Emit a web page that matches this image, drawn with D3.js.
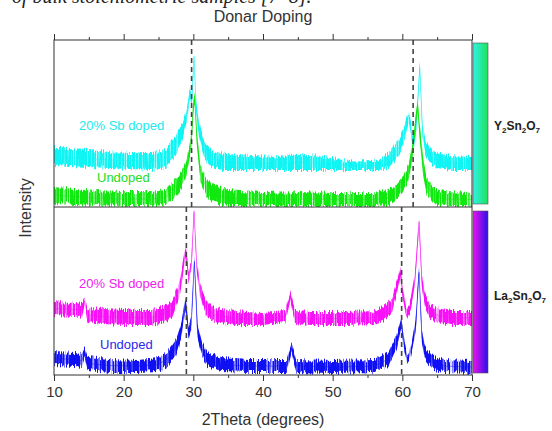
<!DOCTYPE html>
<html>
<head>
<meta charset="utf-8">
<script src="https://cdn.jsdelivr.net/npm/d3@7"></script>
<style>
  body { margin: 0; background: #fff; }
  svg { display: block; font-family: "Liberation Sans", Arial, sans-serif; }
</style>
</head>
<body>
<div id="chart"></div>
<script>
// ticks and reference (dashed) positions
var thetaMajor = [10, 20, 30, 40, 50, 60, 70];
var thetaMinor = [15, 25, 35, 45, 55, 65];
var yRefLines = [29.75, 61.55];
var laRefLines = [29.0, 59.9];

// traces: [2theta, lower edge of noise, upper edge of noise]
// Y2Sn2O7, 20% Sb doped
var ySbDoped = [[10,24.8,35.8],[12,24.2,34.5],[15,23.6,33.9],[18,23.0,32.7],[21,22.4,32.1],[24,21.8,32.1],
  [26,23.0,33.9],[27,27.9,40.0],[28,35,46],[28.5,41,50.3],[29,51,58],[29.5,64,71.5],[29.8,61,67],
  [30.1,88,93.3],[30.4,57,64],[30.8,43,51],[31.5,29,38.8],[32.5,24,34],[34,21.8,32],[38,21.8,30.3],
  [42,21.8,29.7],[44,21.8,31],[47,21.8,30.9],[50,21.8,28.9],[53,21.8,27],[56.5,21.8,27.5],[58,23,32],
  [59.5,30.3,40],[60.4,41,50.3],[60.9,52,58.2],[61.3,41,49],[61.6,35,41.2],[62.0,45,52],[62.5,81,86.7],
  [62.9,41,49],[63.3,31,40],[64,26,35],[65,23,32],[67,21.8,30.3],[70,21.8,29.7]];
// Y2Sn2O7, undoped
var yUndoped = [[10,1.8,11.5],[13,1.2,10.3],[16,0.6,9.1],[20,0,8.5],[24,0,8.5],[26,0.6,9.7],[27,3.6,13.9],
  [28,8.5,18.8],[28.8,15.8,24.8],[29.3,24.8,34],[29.7,34,43],[30.0,57,64.2],[30.2,61,69],[30.5,37,46],
  [31.0,15.8,24.8],[31.8,6.7,17],[33,1.8,12.1],[35,0,9.7],[40,0,7.9],[45,0,8.5],[50,0,7.9],[56,0,7.9],
  [58,0.6,9.7],[59,3.6,12],[60,7.9,17],[60.9,15.8,24.8],[61.5,31,40],[61.9,47,55],[62.2,57,64.2],
  [62.5,40,49],[63.0,18,28],[63.5,7.3,17],[64.5,1.2,10.9],[66,0,8.5],[70,0,7.9]];
// La2Sn2O7, 20% Sb doped
var laSbDoped = [[10,35.5,43.4],[13,35,42.8],[14.0,33.7,42.2],[14.4,41.6,46.4],[14.8,31.3,39.8],[17,30.1,39.2],
  [20,29.5,38.6],[24,29.5,38.6],[26,31.3,41],[27,35,44.6],[28.0,47,55.4],[28.5,59.6,67.5],[28.9,71.7,77.7],
  [29.3,55.4,62.7],[29.7,61.4,67.5],[30.1,95.8,100],[30.5,61.4,67.5],[31.0,45.8,53.6],[31.8,35.5,44.6],
  [33,31.3,39.8],[36,29.5,38],[40,29.5,36.7],[43.2,31.3,38],[43.9,44.6,49.4],[44.6,30.1,38],[47,29.5,37.3],
  [52,29.5,37.3],[56,30.1,38],[57.5,32.5,41],[58.5,37.3,45.8],[59.2,48.2,55.4],[59.7,59,64.5],
  [60.1,44.6,50.6],[60.6,32.5,37.3],[61.2,37.3,44.6],[61.8,53,59.6],[62.4,89,94.6],[62.8,53,59.6],
  [63.3,39.8,47.6],[64.0,33.7,41.6],[65,31.3,39.8],[67,29.5,38],[70,29.5,38]];
// La2Sn2O7, undoped
var laUndoped = [[10,5.4,13.3],[13,4.8,12.7],[14.0,4.2,12],[14.4,9.6,15.7],[14.8,2.4,10.2],[18,1.2,9],
  [22,1.2,8.4],[25,1.8,9.6],[26.5,5.4,14.5],[27.5,10.8,20.5],[28.2,20.5,29.5],[28.9,39.8,46.4],
  [29.3,20.5,27.7],[29.7,26.5,33.7],[30.15,65,70.5],[30.6,21.7,29.5],[31.2,11.4,19.3],[32,4.8,13.3],
  [34,1.8,9.6],[38,1.2,8.4],[43.4,1.2,8.4],[44.1,13.3,18.7],[44.8,1.2,8.4],[50,0.6,7.8],[56,1.2,8.4],
  [58,4.8,13.3],[59.2,15.7,23.5],[59.85,27.7,33.7],[60.3,14.5,20.5],[60.7,7.2,11.4],[61.3,11.4,17.5],
  [61.9,25.3,32.5],[62.4,58.4,63.9],[62.8,19.3,26.5],[63.3,8.4,15.7],[64.5,2.4,10.2],[66,1.2,8.4],
  [70,0.6,7.8]];

var Chart = function(container) {
    this.svg = d3.select(container).append('svg')
        .attr('width', 552)
        .attr('height', 431);
    this.x = d3.scaleLinear().domain([10, 70]).range([54, 472]);
    this.defs = this.svg.append('defs');
    this.grainFilter();
}

// a grainy look for the noise bands (texture only, the band edges come from the data)
Chart.prototype.grainFilter = function() {
    var f = this.defs.append('filter').attr('id', 'grain')
        .attr('x', '-2%').attr('y', '-30%').attr('width', '104%').attr('height', '160%')
        .attr('color-interpolation-filters', 'sRGB');
    f.append('feTurbulence')
        .attr('type', 'fractalNoise')
        .attr('baseFrequency', '0.9 0.012')
        .attr('numOctaves', 2)
        .attr('seed', 7)
        .attr('result', 'n');
    f.append('feColorMatrix').attr('in', 'n').attr('type', 'matrix')
        .attr('values', '0 0 0 0 0.5  0 3 0 0 -1  0 0 0 0 0  0 0 0 0 1')
        .attr('result', 'disp');
    f.append('feDisplacementMap')
        .attr('in', 'SourceGraphic').attr('in2', 'disp')
        .attr('scale', 4)
        .attr('xChannelSelector', 'R').attr('yChannelSelector', 'G')
        .attr('result', 'moved');
    f.append('feColorMatrix').attr('in', 'n').attr('type', 'matrix')
        .attr('values', '0 0 0 0 0  0 0 0 0 0  0 0 0 0 0  3.2 0 0 0 -0.5')
        .attr('result', 'a');
    f.append('feComposite').attr('in', 'moved').attr('in2', 'a').attr('operator', 'in');
}

Chart.prototype.panel = function(id, top, bottom) {
    var y = d3.scaleLinear().domain([0, 100]).range([bottom - 1, top + 1]);
    this.defs.append('clipPath').attr('id', id)
        .append('rect')
        .attr('x', this.x(10)).attr('y', top)
        .attr('width', this.x(70) - this.x(10)).attr('height', bottom - top);
    var g = this.svg.append('g').attr('clip-path', 'url(#' + id + ')');
    return { y: y, g: g, top: top, bottom: bottom };
}

Chart.prototype.band = function(p, data, color) {
    var x = this.x;
    var area = d3.area()
        .x(function(d) { return x(d[0]); })
        .y0(function(d) { return p.y(d[1]); })
        .y1(function(d) { return p.y(d[2]); });
    var line = d3.line()
        .x(function(d) { return x(d[0]); })
        .y(function(d) { return p.y((d[1] + d[2]) / 2); });
    p.g.append('path')
        .datum(data)
        .attr('fill', color)
        .attr('filter', 'url(#grain)')
        .attr('d', area);
    p.g.append('path')
        .datum(data)
        .attr('fill', 'none')
        .attr('stroke', color)
        .attr('stroke-opacity', 0.45)
        .attr('stroke-width', 1)
        .attr('d', line);
}

Chart.prototype.refLines = function(p, values) {
    var x = this.x;
    this.svg.selectAll(null)
        .data(values)
        .enter().append('line')
        .attr('x1', function(d) { return x(d); })
        .attr('x2', function(d) { return x(d); })
        .attr('y1', p.top)
        .attr('y2', p.bottom)
        .attr('stroke', '#444')
        .attr('stroke-width', 1.6)
        .attr('stroke-dasharray', '5,4');
}

Chart.prototype.label = function(text, xPos, yPos, color) {
    this.svg.append('text')
        .attr('x', xPos).attr('y', yPos)
        .attr('font-size', 13)
        .attr('fill', color)
        .text(text);
}

Chart.prototype.colorBar = function(id, top, bottom, c0, c1, parts, textY) {
    var grad = this.defs.append('linearGradient').attr('id', id)
        .attr('x1', '0%').attr('x2', '100%').attr('y1', '0%').attr('y2', '0%');
    grad.append('stop').attr('offset', '0%').attr('stop-color', c0);
    grad.append('stop').attr('offset', '100%').attr('stop-color', c1);
    this.svg.append('rect')
        .attr('x', 473).attr('y', top)
        .attr('width', 15).attr('height', bottom - top)
        .attr('fill', 'url(#' + id + ')')
        .attr('stroke', '#555').attr('stroke-width', 0.6);
    var t = this.svg.append('text')
        .attr('x', 494).attr('y', textY)
        .attr('font-size', 12).attr('font-weight', 'bold')
        .attr('fill', '#222');
    parts.forEach(function(s, i) {
        var sub = /^[0-9]$/.test(s);
        t.append('tspan')
            .attr('font-size', sub ? 8 : 12)
            .attr('dy', i === 0 ? 0 : (sub ? 3 : -3))
            .text(s);
    });
}

Chart.prototype.frame = function() {
    var x = this.x;
    var svg = this.svg;
    svg.append('rect')
        .attr('x', x(10)).attr('y', 40)
        .attr('width', x(70) - x(10)).attr('height', 335)
        .attr('fill', 'none').attr('stroke', '#333').attr('stroke-width', 1);
    svg.append('line')
        .attr('x1', x(10)).attr('x2', x(70))
        .attr('y1', 207).attr('y2', 207)
        .attr('stroke', '#333').attr('stroke-width', 1);

    var bottomAxis = d3.axisBottom(x).tickValues(thetaMajor).tickSize(6).tickPadding(5)
        .tickFormat(d3.format('d'));
    var gb = svg.append('g').attr('transform', 'translate(0,375)').call(bottomAxis);
    var gbm = svg.append('g').attr('transform', 'translate(0,375)')
        .call(d3.axisBottom(x).tickValues(thetaMinor).tickSize(3).tickFormat(''));
    var gt = svg.append('g').attr('transform', 'translate(0,40)')
        .call(d3.axisTop(x).tickValues(thetaMajor).tickSize(6).tickFormat(''));
    var gtm = svg.append('g').attr('transform', 'translate(0,40)')
        .call(d3.axisTop(x).tickValues(thetaMinor).tickSize(3).tickFormat(''));
    [gb, gbm, gt, gtm].forEach(function(g) {
        g.select('.domain').remove();
        g.selectAll('line').attr('stroke', '#333');
    });
    gb.selectAll('text')
        .attr('font-size', 15)
        .attr('font-family', '"Liberation Sans", Arial, sans-serif')
        .attr('fill', '#333');
}

var chart = new Chart('#chart');

// cut-off line of the surrounding document
chart.svg.append('text')
    .attr('x', 12).attr('y', 3)
    .attr('font-family', '"Liberation Serif", serif')
    .attr('font-style', 'italic')
    .attr('font-size', 20)
    .attr('fill', '#222')
    .text('of bulk stoichiometric samples [7\u20138].');

var topPanel = chart.panel('clipTop', 40, 207);
var botPanel = chart.panel('clipBot', 207, 375);

chart.band(topPanel, ySbDoped, '#10f4f4');
chart.band(topPanel, yUndoped, '#10e810');
chart.band(botPanel, laSbDoped, '#f810f8');
chart.band(botPanel, laUndoped, '#1010f4');

chart.refLines(topPanel, yRefLines);
chart.refLines(botPanel, laRefLines);

chart.frame();

chart.label('20% Sb doped', 79, 130, '#22e8ee');
chart.label('Undoped', 97, 182, '#22dd22');
chart.label('20% Sb doped', 79, 288, '#ee22ee');
chart.label('Undoped', 100, 349, '#2a2aee');

chart.colorBar('gradY', 43, 204, '#2ef2e6', '#1ee25a', ['Y', '2', 'Sn', '2', 'O', '7'], 130);
chart.colorBar('gradLa', 211, 373, '#ee10ee', '#2a10e6', ['La', '2', 'Sn', '2', 'O', '7'], 300);

chart.svg.append('text')
    .attr('x', 263).attr('y', 22)
    .attr('text-anchor', 'middle')
    .attr('font-size', 16)
    .attr('fill', '#333')
    .text('Donar Doping');

chart.svg.append('text')
    .attr('x', 263).attr('y', 425)
    .attr('text-anchor', 'middle')
    .attr('font-size', 16)
    .attr('fill', '#333')
    .text('2Theta (degrees)');

chart.svg.append('text')
    .attr('transform', 'translate(31,208) rotate(-90)')
    .attr('text-anchor', 'middle')
    .attr('font-size', 16)
    .attr('fill', '#333')
    .text('Intensity');
</script>
</body>
</html>
